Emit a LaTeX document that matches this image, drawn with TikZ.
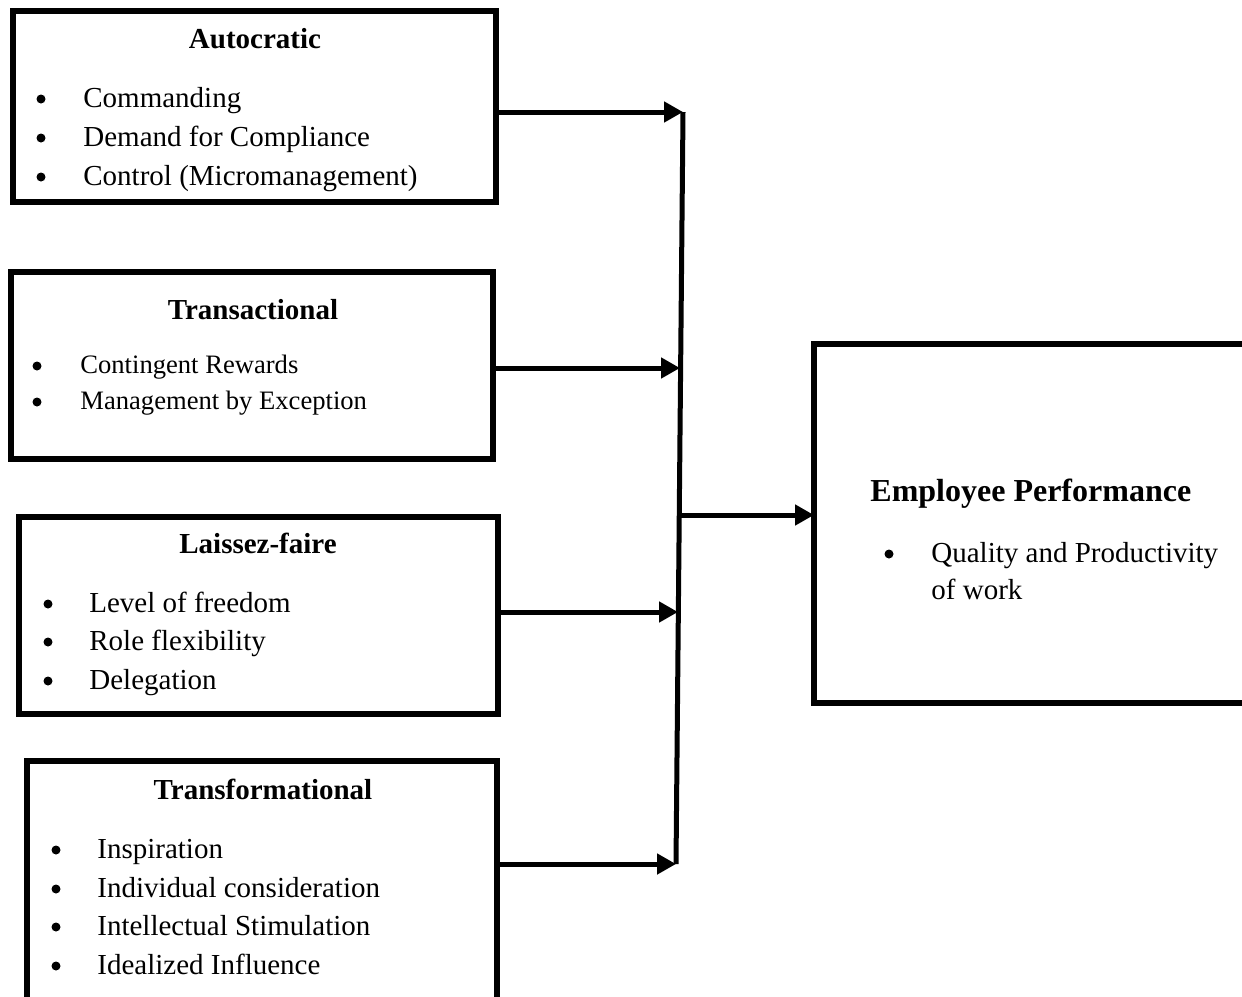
\documentclass[tikz,border=0pt]{standalone}
\usepackage{fontspec}
\setmainfont{Liberation Serif}
\usetikzlibrary{arrows.meta}
\tikzset{
  stylebox/.style={draw=black,line width=3pt,inner sep=0pt,outer sep=0pt},
  head/.style={font=\bfseries\fontsize{14.5}{17}\selectfont,anchor=base,inner sep=0pt},
  item/.style={font=\fontsize{14.5}{17}\selectfont,anchor=base west,inner sep=0pt},
  smallitem/.style={font=\fontsize{13.3}{16}\selectfont,anchor=base west,inner sep=0pt},
  dot/.style={circle,fill=black,inner sep=0pt,minimum size=4.5pt},
  feed/.style={line width=2.5pt,-{Triangle[length=9.5pt,width=10pt]}}
}
\begin{document}
\begin{tikzpicture}[x=0.5pt,y=-0.5pt]
				\useasboundingbox (0,0) rectangle (1242,996);
				\clip (0,0) rectangle (1242,996);
				\node[stylebox,minimum width=241.5pt,minimum height=95.5pt] (auto) at (254.5,106.5) {};
				\node[stylebox,minimum width=241pt,minimum height=93.5pt] (trans) at (252,365.5) {};
				\node[stylebox,minimum width=239.5pt,minimum height=98.5pt] (laissez) at (258.5,615.5) {};
				\node[stylebox,minimum width=235pt,minimum height=124.5pt] (transf) at (262,885.5) {};
				\node[stylebox,minimum width=224pt,minimum height=179.5pt] (perf) at (1038,523.5) {};
				% autocratic
				\node[head] (autoT) at (255,48) {Autocratic};
				\node[dot] (autoB1) at (41,99) {};
				\node[dot] (autoB2) at (41,138) {};
				\node[dot] (autoB3) at (41,177) {};
				\node[item] (auto1) at (83,107) {Commanding};
				\node[item] (auto2) at (83,146) {Demand for Compliance};
				\node[item] (auto3) at (83,185) {Control (Micromanagement)};
				% transactional
				\node[head] (transT) at (253,319) {Transactional};
				\node[dot] (transB1) at (37,366) {};
				\node[dot] (transB2) at (37,402) {};
				\node[smallitem] (trans1) at (80,373) {Contingent Rewards};
				\node[smallitem] (trans2) at (80,409) {Management by Exception};
				% laissez-faire
				\node[head] (laissezT) at (258,553) {Laissez-faire};
				\node[dot] (laissezB1) at (48,604) {};
				\node[dot] (laissezB2) at (48,642) {};
				\node[dot] (laissezB3) at (48,681) {};
				\node[item] (laissez1) at (89,612) {Level of freedom};
				\node[item] (laissez2) at (89,650) {Role flexibility};
				\node[item] (laissez3) at (89,689) {Delegation};
				% transformational
				\node[head] (transfT) at (263,799) {Transformational};
				\node[dot] (transfB1) at (56,850) {};
				\node[dot] (transfB2) at (56,889) {};
				\node[dot] (transfB3) at (56,927) {};
				\node[dot] (transfB4) at (56,966) {};
				\node[item] (transf1) at (97,858) {Inspiration};
				\node[item] (transf2) at (97,897) {Individual consideration};
				\node[item] (transf3) at (97,935) {Intellectual Stimulation};
				\node[item] (transf4) at (97,974) {Idealized Influence};
				% performance
				\node[head,anchor=base west,font=\bfseries\fontsize{16}{19}\selectfont] (perfT) at (870,501) {Employee Performance};
				\node[dot] (perfB1) at (889,554) {};
				\node[item] (perf1) at (931,562) {Quality and Productivity};
				\node[item] (perf2) at (931,599) {of work};
				% trunk and arrows
				\coordinate (jtop) at (683,112);
				\coordinate (j2) at (680,368);
				\coordinate (j3) at (678,612);
				\coordinate (jbot) at (676,864);
				\coordinate (jmid) at (680,515);
				\draw[line width=2.5pt] (jtop) -- (jbot);
				\draw[feed] (auto.east |- jtop) -- (jtop);
				\draw[feed] (trans.east |- j2) -- (j2);
				\draw[feed] (laissez.east |- j3) -- (j3);
				\draw[feed] (transf.east |- jbot) -- (jbot);
				\draw[feed] (jmid) -- (perf.west |- jmid);
			\end{tikzpicture}
\end{document}
